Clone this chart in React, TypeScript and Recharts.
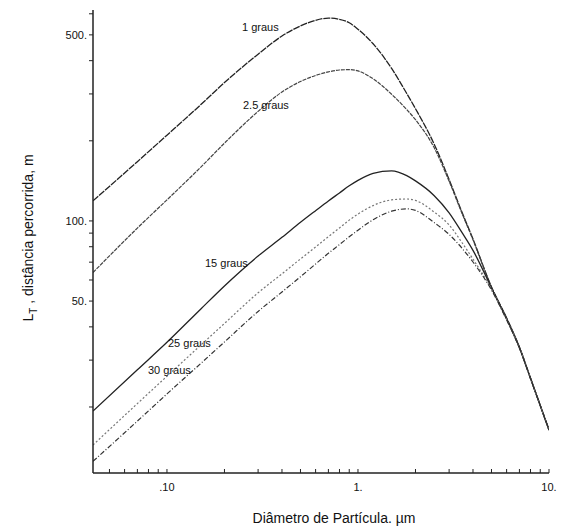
import { Line, LineChart, XAxis, YAxis } from "recharts";

// particle diameter, µm
const diameters = [0.041, 0.07, 0.1, 0.15, 0.2, 0.3, 0.4, 0.5, 0.6, 0.7, 0.8, 0.9, 1, 1.2, 1.5, 1.8, 2, 2.5, 3, 3.5, 4, 5, 6, 7, 8, 10];

// distance travelled L_T (m) for each inclination
const graus1 = [119, 167, 210, 273, 331, 423, 495, 540, 567, 578, 572, 555, 525, 463, 374, 301, 264, 195, 143, 108, 85.5, 56.5, 43.2, 33.6, 25.7, 16.4];
const graus2_5 = [64, 94, 120, 159, 196, 258, 305, 334, 352, 363, 369, 370, 366, 342, 299, 262, 240, 189, 141, 107, 85, 56.2, 43, 33.5, 25.7, 16.4];
const graus15 = [19.3, 27.6, 35, 46.6, 57, 73.8, 86.8, 98.8, 109.3, 118.9, 127.4, 135.5, 142.1, 151, 154.2, 148, 141.4, 124.7, 107.2, 90.5, 77.5, 56, 42.8, 33.4, 25.6, 16.4];
const graus25 = [14.4, 20.6, 26.1, 34.1, 41.2, 53.7, 63.3, 72, 79.8, 87.3, 94.1, 100.7, 106.1, 114.2, 120, 120.9, 119.4, 108.1, 96.6, 83, 71.9, 55.5, 42.6, 33.4, 25.6, 16.4];
const graus30 = [12.5, 17.7, 22.4, 29.1, 35.1, 45.7, 54.1, 61.7, 68.9, 75.6, 81.5, 87.2, 92.3, 101, 108.8, 111, 109.5, 98.7, 89, 79.1, 70.1, 55, 42.5, 33.3, 25.6, 16.4];

const xTicks = [0.05, 0.06, 0.07, 0.08, 0.09, 0.1, 0.2, 0.3, 0.4, 0.5, 0.6, 0.7, 0.8, 0.9, 1, 2, 3, 4, 5, 6, 7, 8, 9, 10];
const xLabels: Record<number, string> = { 0.1: ".10", 1: "1.", 10: "10." };
const yTicks = [20, 30, 40, 50, 60, 70, 80, 90, 100, 200, 300, 400, 500, 600];
const yLabels: Record<number, string> = { 50: "50.", 100: "100.", 500: "500." };

const data = diameters.map((d, i) => ({
  d,
  g1: graus1[i],
  g2: graus2_5[i],
  g15: graus15[i],
  g25: graus25[i],
  g30: graus30[i],
}));

const FONT = "'Liberation Sans', Arial, sans-serif";
const INK = "#222";
const tickStyle = { fontSize: 11, fill: "#111", fontFamily: FONT };

const curveLabels = [
  { text: "1 graus", x: 242, y: 31 },
  { text: "2.5 graus", x: 243, y: 109 },
  { text: "15 graus", x: 205, y: 267 },
  { text: "25 graus", x: 168, y: 347 },
  { text: "30 graus", x: 148, y: 374 },
];

export default function App() {
  return (
    <div style={{ position: "absolute", left: 0, top: 0, width: 563, height: 529, background: "#fff" }}>
      <LineChart width={563} height={529} data={data} margin={{ top: 10, right: 14, left: 0, bottom: 0 }}>
        <XAxis
          dataKey="d"
          type="number"
          scale="log"
          domain={[0.041, 10]}
          ticks={xTicks}
          tickFormatter={(v: number) => xLabels[v] ?? ""}
          tick={tickStyle}
          tickSize={-4}
          tickMargin={14}
          interval={0}
          height={56}
          allowDataOverflow
          axisLine={{ stroke: INK, strokeWidth: 1.5 }}
          tickLine={{ stroke: INK }}
        />
        <XAxis
          xAxisId="top"
          dataKey="d"
          type="number"
          scale="log"
          domain={[0.041, 10]}
          orientation="top"
          height={0}
          tick={false}
          tickLine={false}
          axisLine={{ stroke: INK, strokeWidth: 1.5 }}
        />
        <YAxis
          type="number"
          scale="log"
          domain={[11.3, 620]}
          ticks={yTicks}
          tickFormatter={(v: number) => yLabels[v] ?? ""}
          tick={tickStyle}
          tickSize={4}
          interval={0}
          width={93}
          allowDataOverflow
          axisLine={{ stroke: INK, strokeWidth: 1.5 }}
          tickLine={{ stroke: INK }}
        />
        <YAxis
          yAxisId="right"
          orientation="right"
          type="number"
          scale="log"
          domain={[11.3, 620]}
          width={0}
          tick={false}
          tickLine={false}
          axisLine={{ stroke: INK, strokeWidth: 1.5 }}
        />
        <Line dataKey="g1" type="monotone" stroke={INK} strokeWidth={1.3} strokeDasharray="7 1" dot={false} isAnimationActive={false} />
        <Line dataKey="g2" type="monotone" stroke="#444" strokeWidth={1.2} strokeDasharray="4 1" dot={false} isAnimationActive={false} />
        <Line dataKey="g15" type="monotone" stroke={INK} strokeWidth={1.3} dot={false} isAnimationActive={false} />
        <Line dataKey="g25" type="monotone" stroke="#777" strokeWidth={1.2} strokeDasharray="2 2" dot={false} isAnimationActive={false} />
        <Line dataKey="g30" type="monotone" stroke="#333" strokeWidth={1.2} strokeDasharray="5 2 1 2" dot={false} isAnimationActive={false} />
      </LineChart>
      <svg width={563} height={529} style={{ position: "absolute", left: 0, top: 0, pointerEvents: "none" }}>
        {curveLabels.map((c) => (
          <text key={c.text} x={c.x} y={c.y} fontSize={11} fontFamily={FONT} fill="#111">
            {c.text}
          </text>
        ))}
        <text x={334} y={523} textAnchor="middle" fontSize={14} fontFamily={FONT} fill="#111">
          Diâmetro de Partícula. µm
        </text>
        <text transform="translate(33,238) rotate(-90)" textAnchor="middle" fontSize={14} fontFamily={FONT} fill="#111">
          L<tspan fontSize={10} dy={4}>T</tspan>
          <tspan dy={-4}> , distância percorrida,  m</tspan>
        </text>
      </svg>
    </div>
  );
}
